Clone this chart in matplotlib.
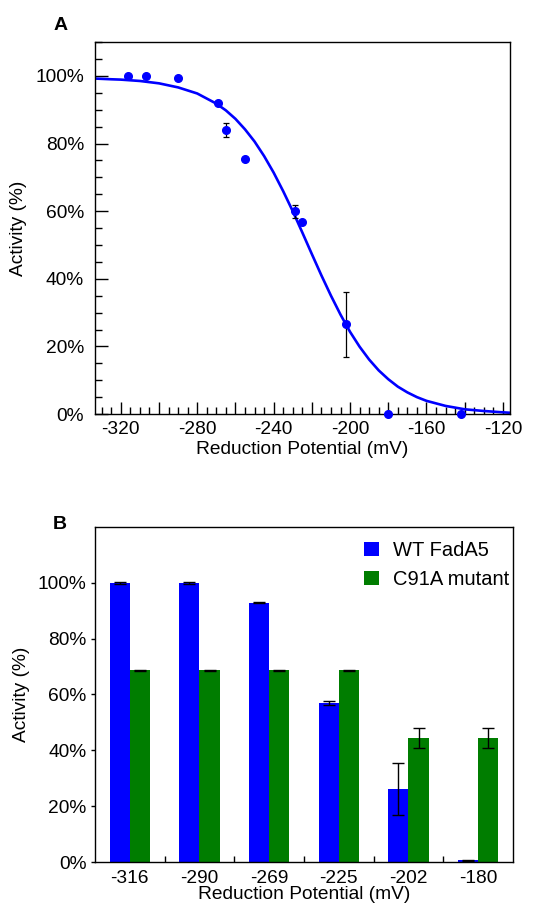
import numpy as np
import matplotlib
matplotlib.use("Agg")
import matplotlib.pyplot as plt
from matplotlib.ticker import MultipleLocator

plt.rcParams["font.family"] = ["Liberation Sans", "DejaVu Sans"]
plt.rcParams["axes.unicode_minus"] = False

# panel A: measured points
pot_a = [-316, -307, -290, -269, -265, -255, -229, -225, -202, -180, -142]
act_a = [100.0, 100.0, 99.5, 92.0, 84.0, 75.4, 59.9, 56.9, 26.5, 0.0, 0.0]
err_a = [0, 0, 0, 0, 2.1, 0, 2.0, 0, 9.6, 0, 0]

# panel A: fitted curve
fit_x = [-333, -325, -320, -310, -300, -290, -280, -270, -265, -260, -255,
         -250, -245, -240, -235, -230, -225, -220, -215, -210, -205, -200,
         -195, -190, -185, -180, -175, -170, -165, -160, -150, -140, -130,
         -120, -117]
fit_y = [99.2, 99.0, 98.9, 98.5, 97.8, 96.6, 94.8, 91.8, 89.8, 87.3, 84.2,
         80.6, 76.3, 71.4, 65.9, 60.0, 53.7, 47.3, 41.0, 35.0, 29.4, 24.3,
         19.9, 16.1, 12.9, 10.3, 8.1, 6.4, 5.0, 3.9, 2.4, 1.4, 0.9,
         0.5, 0.4]

# panel B
categories = ["-316", "-290", "-269", "-225", "-202", "-180"]
wt = [100.0, 100.0, 92.8, 56.9, 26.1, 0.6]
wt_err = [0.3, 0.3, 0.2, 0.7, 9.2, 0.2]
mut = [68.7, 68.7, 68.7, 68.7, 44.4, 44.4]
mut_err = [0.2, 0.2, 0.2, 0.2, 3.6, 3.6]

blue = "#0000ff"
green = "#007d00"
fs = 13.8

fig = plt.figure(figsize=(5.37, 9.05), dpi=100)

# ---- panel A ----
ax = fig.add_axes([0.1769, 0.5425, 0.7728, 0.4110])
ax.plot(fit_x, fit_y, color=blue, lw=1.9, zorder=2)
ax.errorbar(pot_a, act_a, yerr=err_a, fmt="o", color=blue, ms=5.5,
            ecolor="black", elinewidth=0.9, capsize=2, capthick=0.9, zorder=3,
            clip_on=False)
ax.set_xlim(-333.5, -116.3)
ax.set_ylim(0, 110)
xt = list(range(-320, -119, 20))
ax.set_xticks(xt)
ax.set_xticklabels([str(v) if v % 40 == 0 else "" for v in xt])
ax.xaxis.set_minor_locator(MultipleLocator(5))
ax.set_yticks(range(0, 101, 20))
ax.set_yticklabels([f"{v}%" for v in range(0, 101, 20)])
ax.yaxis.set_minor_locator(MultipleLocator(5))
ax.tick_params(axis="both", which="major", direction="in", length=9,
               width=1, labelsize=fs, top=False, right=False)
ax.tick_params(axis="both", which="minor", direction="in", length=5,
               width=1, top=False, right=False)
ax.tick_params(axis="x", pad=5)
ax.tick_params(axis="y", pad=8)
ax.set_xlabel("Reduction Potential (mV)", fontsize=fs, labelpad=2)
ax.set_ylabel("Activity (%)", fontsize=fs, labelpad=6)
for s in ax.spines.values():
    s.set_linewidth(1)
fig.text(0.112, 0.972, "A", fontsize=14, fontweight="bold", ha="center", va="center")

# ---- panel B ----
bx = fig.add_axes([0.1769, 0.0475, 0.7784, 0.3702])
x = np.arange(len(categories))
w = 0.29
bx.bar(x - w / 2, wt, w, color=blue, linewidth=0,
       yerr=wt_err, error_kw=dict(ecolor="black", elinewidth=1, capsize=4, capthick=1),
       label="WT FadA5")
bx.bar(x + w / 2, mut, w, color=green, linewidth=0,
       yerr=mut_err, error_kw=dict(ecolor="black", elinewidth=1, capsize=4, capthick=1),
       label="C91A mutant")
bx.set_xlim(-0.5, 5.5)
bx.set_ylim(0, 120)
bx.set_xticks(x)
bx.set_xticklabels(categories)
bx.set_xticks(x[:-1] + 0.5, minor=True)
bx.set_yticks(range(0, 101, 20))
bx.set_yticklabels([f"{v}%" for v in range(0, 101, 20)])
bx.tick_params(axis="x", which="major", length=0, labelsize=fs, pad=6)
bx.tick_params(axis="x", which="minor", direction="in", length=4, width=1)
bx.tick_params(axis="y", direction="out", length=3, width=1, labelsize=fs, pad=3)
bx.set_xlabel("Reduction Potential (mV)", fontsize=fs, labelpad=-1)
bx.set_ylabel("Activity (%)", fontsize=fs, labelpad=6)
for s in bx.spines.values():
    s.set_linewidth(1)
bx.legend(loc="upper right", bbox_to_anchor=(1.0, 0.97), frameon=False,
          fontsize=14.5, handlelength=0.75, handleheight=0.75,
          handletextpad=0.7, borderaxespad=0.0, borderpad=0.2,
          labelspacing=0.5)
fig.text(0.112, 0.42, "B", fontsize=14, fontweight="bold", ha="center", va="center")

fig.savefig("out.png", dpi=100)
